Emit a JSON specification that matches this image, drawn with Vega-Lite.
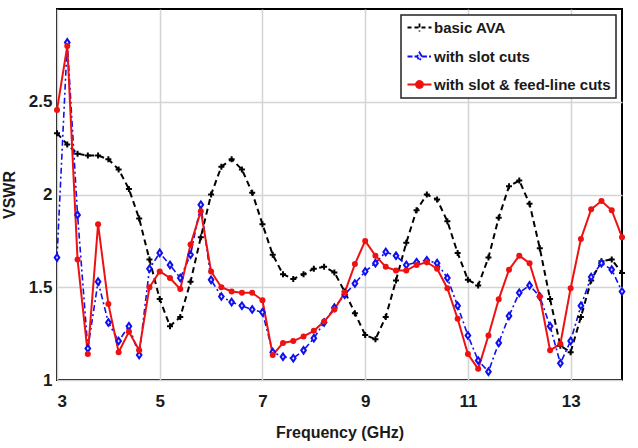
{
  "$schema": "https://vega.github.io/schema/vega-lite/v6.json",
  "width": 565,
  "height": 371,
  "autosize": {"type": "none"},
  "padding": {"left": 57, "top": 9, "right": 16, "bottom": 68},
  "background": "white",
  "config": {
    "view": {"stroke": "black", "strokeWidth": 2},
    "font": "Liberation Sans",
    "axis": {
      "labelFont": "Liberation Sans",
      "labelFontSize": 17,
      "labelFontWeight": "bold",
      "labelColor": "#1a1a1a",
      "titleFont": "Liberation Sans",
      "titleFontSize": 16,
      "titleFontWeight": "bold",
      "titleColor": "#1a1a1a",
      "gridColor": "#d4d4d4",
      "gridWidth": 1.5,
      "domain": false,
      "ticks": false
    },
    "legend": {
      "orient": "top-right",
      "offset": 6,
      "strokeColor": "#222",
      "strokeWidth": 1.5,
      "fillColor": "white",
      "padding": 5,
      "labelFont": "Liberation Sans",
      "labelFontSize": 15,
      "labelFontWeight": "bold",
      "labelColor": "#1a1a1a",
      "symbolSize": 100,
      "symbolStrokeWidth": 1.8,
      "symbolOffset": 6,
      "labelOffset": 7,
      "rowPadding": 12,
      "labelLimit": 300
    }
  },
  "data": {
    "values": [
      {"f": 3.0, "basic AVA": 2.33, "with slot cuts": 1.66, "with slot & feed-line cuts": 2.456},
      {"f": 3.2, "basic AVA": 2.27, "with slot cuts": 2.82, "with slot & feed-line cuts": 2.80},
      {"f": 3.4, "basic AVA": 2.22, "with slot cuts": 1.89, "with slot & feed-line cuts": 1.65},
      {"f": 3.6, "basic AVA": 2.21, "with slot cuts": 1.17, "with slot & feed-line cuts": 1.14},
      {"f": 3.8, "basic AVA": 2.21, "with slot cuts": 1.53, "with slot & feed-line cuts": 1.84},
      {"f": 4.0, "basic AVA": 2.19, "with slot cuts": 1.31, "with slot & feed-line cuts": 1.41},
      {"f": 4.2, "basic AVA": 2.135, "with slot cuts": 1.21, "with slot & feed-line cuts": 1.15},
      {"f": 4.4, "basic AVA": 2.03, "with slot cuts": 1.29, "with slot & feed-line cuts": 1.26},
      {"f": 4.6, "basic AVA": 1.87, "with slot cuts": 1.135, "with slot & feed-line cuts": 1.16},
      {"f": 4.8, "basic AVA": 1.65, "with slot cuts": 1.60, "with slot & feed-line cuts": 1.50},
      {"f": 5.0, "basic AVA": 1.436, "with slot cuts": 1.685, "with slot & feed-line cuts": 1.585},
      {"f": 5.2, "basic AVA": 1.29, "with slot cuts": 1.62, "with slot & feed-line cuts": 1.55},
      {"f": 5.4, "basic AVA": 1.34, "with slot cuts": 1.55, "with slot & feed-line cuts": 1.49},
      {"f": 5.6, "basic AVA": 1.53, "with slot cuts": 1.675, "with slot & feed-line cuts": 1.73},
      {"f": 5.8, "basic AVA": 1.77, "with slot cuts": 1.945, "with slot & feed-line cuts": 1.91},
      {"f": 6.0, "basic AVA": 2.0, "with slot cuts": 1.54, "with slot & feed-line cuts": 1.585},
      {"f": 6.2, "basic AVA": 2.15, "with slot cuts": 1.45, "with slot & feed-line cuts": 1.50},
      {"f": 6.4, "basic AVA": 2.19, "with slot cuts": 1.42, "with slot & feed-line cuts": 1.477},
      {"f": 6.6, "basic AVA": 2.135, "with slot cuts": 1.40, "with slot & feed-line cuts": 1.47},
      {"f": 6.8, "basic AVA": 2.01, "with slot cuts": 1.38, "with slot & feed-line cuts": 1.47},
      {"f": 7.0, "basic AVA": 1.84, "with slot cuts": 1.365, "with slot & feed-line cuts": 1.43},
      {"f": 7.2, "basic AVA": 1.675, "with slot cuts": 1.15, "with slot & feed-line cuts": 1.135},
      {"f": 7.4, "basic AVA": 1.57, "with slot cuts": 1.125, "with slot & feed-line cuts": 1.20},
      {"f": 7.6, "basic AVA": 1.545, "with slot cuts": 1.117, "with slot & feed-line cuts": 1.21},
      {"f": 7.8, "basic AVA": 1.57, "with slot cuts": 1.16, "with slot & feed-line cuts": 1.235},
      {"f": 8.0, "basic AVA": 1.60, "with slot cuts": 1.225, "with slot & feed-line cuts": 1.265},
      {"f": 8.2, "basic AVA": 1.61, "with slot cuts": 1.31, "with slot & feed-line cuts": 1.315},
      {"f": 8.4, "basic AVA": 1.58, "with slot cuts": 1.39, "with slot & feed-line cuts": 1.38},
      {"f": 8.6, "basic AVA": 1.477, "with slot cuts": 1.46, "with slot & feed-line cuts": 1.47},
      {"f": 8.8, "basic AVA": 1.36, "with slot cuts": 1.52, "with slot & feed-line cuts": 1.625},
      {"f": 9.0, "basic AVA": 1.243, "with slot cuts": 1.585, "with slot & feed-line cuts": 1.75},
      {"f": 9.2, "basic AVA": 1.22, "with slot cuts": 1.63, "with slot & feed-line cuts": 1.67},
      {"f": 9.4, "basic AVA": 1.34, "with slot cuts": 1.69, "with slot & feed-line cuts": 1.61},
      {"f": 9.6, "basic AVA": 1.537, "with slot cuts": 1.67, "with slot & feed-line cuts": 1.59},
      {"f": 9.8, "basic AVA": 1.74, "with slot cuts": 1.62, "with slot & feed-line cuts": 1.59},
      {"f": 10.0, "basic AVA": 1.915, "with slot cuts": 1.635, "with slot & feed-line cuts": 1.62},
      {"f": 10.2, "basic AVA": 2.0, "with slot cuts": 1.645, "with slot & feed-line cuts": 1.635},
      {"f": 10.4, "basic AVA": 1.973, "with slot cuts": 1.63, "with slot & feed-line cuts": 1.60},
      {"f": 10.6, "basic AVA": 1.856, "with slot cuts": 1.55, "with slot & feed-line cuts": 1.495},
      {"f": 10.8, "basic AVA": 1.685, "with slot cuts": 1.40, "with slot & feed-line cuts": 1.33},
      {"f": 11.0, "basic AVA": 1.54, "with slot cuts": 1.24, "with slot & feed-line cuts": 1.14},
      {"f": 11.2, "basic AVA": 1.51, "with slot cuts": 1.105, "with slot & feed-line cuts": 1.06},
      {"f": 11.4, "basic AVA": 1.66, "with slot cuts": 1.045, "with slot & feed-line cuts": 1.24},
      {"f": 11.6, "basic AVA": 1.875, "with slot cuts": 1.20, "with slot & feed-line cuts": 1.435},
      {"f": 11.8, "basic AVA": 2.045, "with slot cuts": 1.345, "with slot & feed-line cuts": 1.595},
      {"f": 12.0, "basic AVA": 2.075, "with slot cuts": 1.47, "with slot & feed-line cuts": 1.67},
      {"f": 12.2, "basic AVA": 1.95, "with slot cuts": 1.51, "with slot & feed-line cuts": 1.63},
      {"f": 12.4, "basic AVA": 1.71, "with slot cuts": 1.45, "with slot & feed-line cuts": 1.45},
      {"f": 12.6, "basic AVA": 1.436, "with slot cuts": 1.29, "with slot & feed-line cuts": 1.16},
      {"f": 12.8, "basic AVA": 1.185, "with slot cuts": 1.09, "with slot & feed-line cuts": 1.195},
      {"f": 13.0, "basic AVA": 1.15, "with slot cuts": 1.21, "with slot & feed-line cuts": 1.495},
      {"f": 13.2, "basic AVA": 1.34, "with slot cuts": 1.40, "with slot & feed-line cuts": 1.76},
      {"f": 13.4, "basic AVA": 1.537, "with slot cuts": 1.555, "with slot & feed-line cuts": 1.92},
      {"f": 13.6, "basic AVA": 1.64, "with slot cuts": 1.63, "with slot & feed-line cuts": 1.965},
      {"f": 13.8, "basic AVA": 1.65, "with slot cuts": 1.595, "with slot & feed-line cuts": 1.915},
      {"f": 14.0, "basic AVA": 1.577, "with slot cuts": 1.477, "with slot & feed-line cuts": 1.77}
    ]
  },
  "transform": [
    {"fold": ["basic AVA", "with slot cuts", "with slot & feed-line cuts"], "as": ["series", "v"]}
  ],
  "encoding": {
    "x": {
      "field": "f", "type": "quantitative",
      "scale": {"domain": [3, 14], "nice": false, "zero": false},
      "axis": {"values": [3, 5, 7, 9, 11, 13], "title": "Frequency (GHz)", "labelPadding": 13, "titlePadding": 15, "format": "d"}
    },
    "y": {
      "field": "v", "type": "quantitative",
      "scale": {"domain": [1, 3], "nice": false, "zero": false},
      "axis": {"values": [1, 1.5, 2, 2.5], "format": ".1~f", "title": "VSWR", "labelPadding": 5, "titlePadding": 11}
    }
  },
  "layer": [
    {
      "transform": [{"filter": "datum.series === 'basic AVA'"}],
      "mark": {"type": "line", "color": "black", "strokeWidth": 2, "strokeDash": [6, 4]}
    },
    {
      "transform": [{"filter": "datum.series === 'with slot cuts'"}],
      "mark": {"type": "line", "color": "#1010ee", "strokeWidth": 1.6, "strokeDash": [6, 3, 2, 3]}
    },
    {
      "transform": [{"filter": "datum.series === 'with slot & feed-line cuts'"}],
      "mark": {"type": "line", "color": "#ee1111", "strokeWidth": 2}
    },
    {
      "transform": [{"filter": "datum.series === 'basic AVA'"}],
      "mark": {"type": "point", "shape": "M-1,0H1M0,-1V1", "size": 36, "stroke": "black", "strokeWidth": 2, "filled": false, "opacity": 1}
    },
    {
      "transform": [{"filter": "datum.series === 'with slot cuts'"}],
      "mark": {"type": "point", "shape": "M0,-1L0.7,0L0,1L-0.7,0Z", "size": 44, "stroke": "#1010ee", "fill": "#dde0ff", "strokeWidth": 2, "filled": true, "opacity": 1}
    },
    {
      "transform": [{"filter": "datum.series === 'with slot & feed-line cuts'"}],
      "mark": {"type": "point", "shape": "circle", "size": 36, "color": "#ee1111", "filled": true, "opacity": 1}
    },
    {
      "transform": [{"filter": "false"}],
      "mark": {"type": "point", "opacity": 1},
      "encoding": {
        "stroke": {
          "field": "series", "type": "nominal",
          "scale": {"domain": ["basic AVA", "with slot cuts", "with slot & feed-line cuts"], "range": ["black", "#1010ee", "#ee1111"]},
          "legend": {"title": null}
        },
        "fill": {
          "field": "series", "type": "nominal",
          "scale": {"domain": ["basic AVA", "with slot cuts", "with slot & feed-line cuts"], "range": ["rgba(0,0,0,0)", "#dde0ff", "#ee1111"]},
          "legend": {"title": null}
        },
        "shape": {
          "field": "series", "type": "nominal",
          "scale": {"domain": ["basic AVA", "with slot cuts", "with slot & feed-line cuts"], "range": ["M-2.4,0H2.4M0,-0.8V0.8", "M-2.4,0H-0.5M0.5,0H2.4M0,-0.8L0.5,0L0,0.8L-0.5,0Z", "M-2.4,0H2.4M0.7,0A0.7,0.7,0,1,1,-0.7,0A0.7,0.7,0,1,1,0.7,0Z"]},
          "legend": {"title": null}
        },
        "strokeDash": {
          "field": "series", "type": "nominal",
          "scale": {"domain": ["basic AVA", "with slot cuts", "with slot & feed-line cuts"], "range": [[4, 3], [5, 2, 2, 2], [1, 0]]},
          "legend": {"title": null}
        }
      }
    }
  ]
}
